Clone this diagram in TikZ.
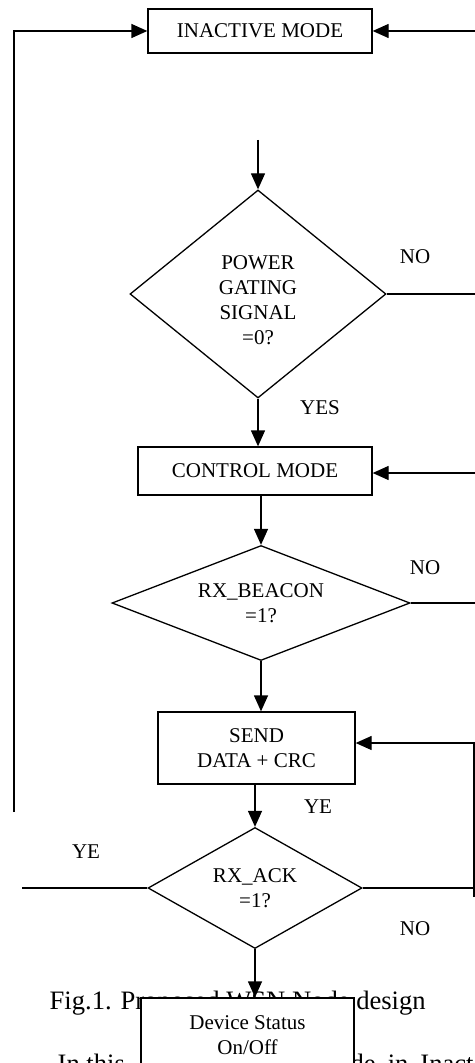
\documentclass[tikz,border=0pt]{standalone}
\usepackage{fontspec}
\setmainfont{Liberation Serif}
\usetikzlibrary{shapes.geometric,arrows.meta}
\tikzset{
  wsn-flow/.style={
    line width=0.65pt,
    x=0.5pt,
    y=-0.5pt,
    font=\fontsize{10.5pt}{12.5pt}\selectfont
  },
  flow-arrow/.style={
    draw=black,
    -{Triangle[length=8pt,width=7pt]}
  },
  mode-box/.style={rectangle, draw=black, fill=white, align=center, inner sep=0pt},
  test-diamond/.style={diamond, draw=black, fill=white, align=center, inner sep=0pt},
  side-label/.style={inner sep=0pt},
  caption-text/.style={inner sep=0pt, font=\fontsize{13.3pt}{16pt}\selectfont}
}

\begin{document}
\begin{tikzpicture}[wsn-flow]
  \useasboundingbox (0,0) rectangle (475,1063);
  % caption and text under the chart (partly hidden by the last box)
  \node[caption-text, anchor=base west] (caption) at (49,1009) {Fig.1. Proposed WSN Node design};
  \node[caption-text, anchor=base west] (body-left) at (57,1072) {In this};
  \node[caption-text, anchor=base west] (body-right) at (350,1072) {de\hspace{6pt}in\hspace{6pt}Inact};
  % modes
  \node[mode-box, minimum width=112pt, minimum height=22pt] (inactive) at (260,31) {INACTIVE MODE};
  \node[mode-box, minimum width=117pt, minimum height=24pt] (control) at (255,471) {CONTROL MODE};
  \node[mode-box, minimum width=98.5pt, minimum height=36pt] (send) at (256.5,748) {SEND\\DATA + CRC};
  \node[mode-box, minimum width=106.5pt, minimum height=37.5pt] (device) at (247.5,1035.5) {Device Status\\On/Off};
  % tests (text of the first one sits a bit low)
  \node[test-diamond, minimum width=128pt, minimum height=104pt,
    label={[name=gating-text, align=center, inner sep=0pt, yshift=-3pt]center:POWER\\GATING\\SIGNAL\\=0?}] (gating) at (258,294) {};
  \node[test-diamond, minimum width=149pt, minimum height=57.5pt, aspect=2.6] (beacon) at (261,603) {RX\_BEACON\\=1?};
  \node[test-diamond, minimum width=107pt, minimum height=60.5pt, aspect=1.77] (ack) at (255,888) {RX\_ACK\\=1?};
  % branch labels
  \node[side-label] (gating-no) at (415,257) {NO};
  \node[side-label] (gating-yes) at (320,408) {YES};
  \node[side-label] (beacon-no) at (425,568) {NO};
  \node[side-label] (send-ye) at (318,807) {YE};
  \node[side-label] (ack-ye) at (86,852) {YE};
  \node[side-label] (ack-no) at (415,929) {NO};
  % loose ends
  \coordinate (left-low) at (14,812);
  \coordinate (right-top) at (475,31);
  \coordinate (gating-in) at (258,140);
  \coordinate (gating-out) at (475,294);
  \coordinate (control-in) at (475,473);
  \coordinate (beacon-out) at (475,603);
  \coordinate (send-in) at (475,743);
  \coordinate (ack-out) at (22,888);
  \coordinate (no-low) at (474,897);
  \coordinate (no-high) at (474,743);
  % connectors
  \draw[flow-arrow] (left-low) |- (inactive.west);
  \draw[flow-arrow] (right-top) -- (inactive.east);
  \draw[flow-arrow] (gating-in) -- (gating.north);
  \draw[flow-arrow] (gating.south) -- (gating.south |- control.north);
  \draw (gating.east) -- (gating-out);
  \draw[flow-arrow] (control-in) -- (control-in -| control.east);
  \draw[flow-arrow] (beacon.north |- control.south) -- (beacon.north);
  \draw (beacon.east) -- (beacon-out);
  \draw[flow-arrow] (beacon.south) -- (beacon.south |- send.north);
  \draw[flow-arrow] (send-in) -- (send-in -| send.east);
  \draw[flow-arrow] (ack.north |- send.south) -- (ack.north);
  \draw (ack.west) -- (ack-out);
  \draw (ack.east) -- (ack.east -| no-low);
  \draw (no-low) -- (no-high);
  \draw[flow-arrow] (ack.south) -- (ack.south |- device.north);
\end{tikzpicture}
\end{document}
